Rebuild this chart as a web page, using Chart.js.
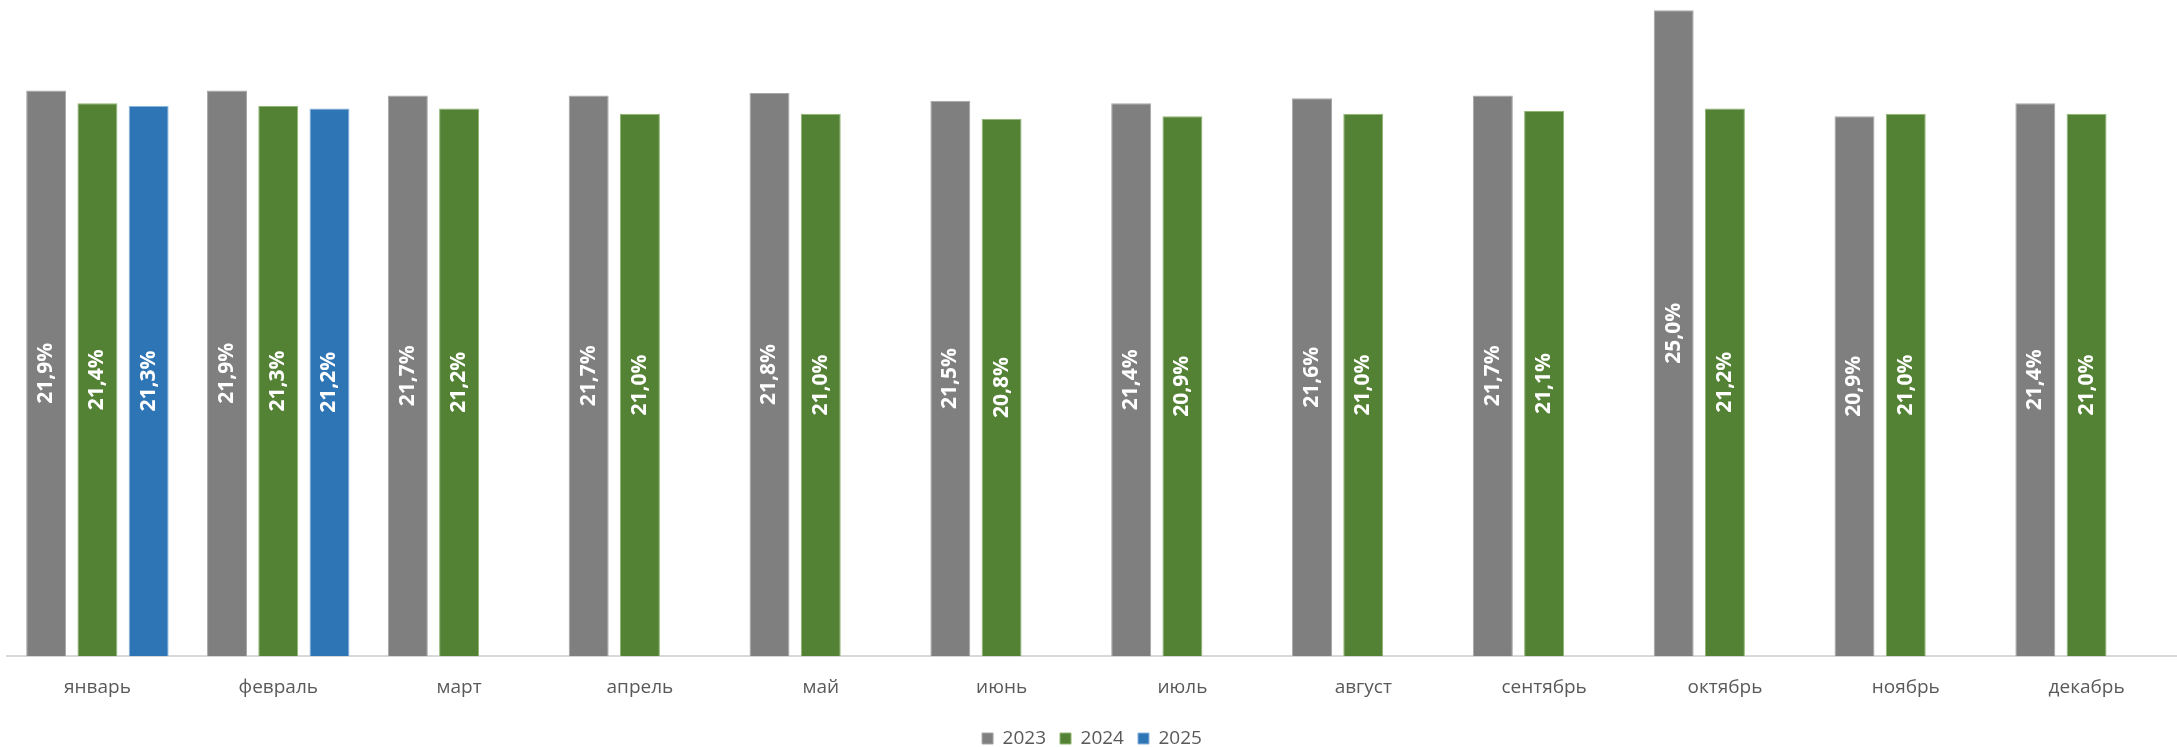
<!DOCTYPE html>
<html>
<head>
<meta charset="utf-8">
<script src="https://cdn.jsdelivr.net/npm/chart.js@4"></script>
<style>
  html, body { margin: 0; padding: 0; background: #fff; overflow: hidden; }
</style>
</head>
<body>
<canvas id="share-chart" width="2177" height="758"></canvas>
<script>
const months = ['январь', 'февраль', 'март', 'апрель', 'май', 'июнь', 'июль', 'август', 'сентябрь', 'октябрь', 'ноябрь', 'декабрь'];
const share2023 = [21.9, 21.9, 21.7, 21.7, 21.8, 21.5, 21.4, 21.6, 21.7, 25.0, 20.9, 21.4];
const share2024 = [21.4, 21.3, 21.2, 21.0, 21.0, 20.8, 20.9, 21.0, 21.1, 21.2, 21.0, 21.0];
const share2025 = [21.3, 21.2, null, null, null, null, null, null, null, null, null, null];

// white rotated value labels in the middle of each bar
const barLabels = {
    id: 'barLabels',
    afterDatasetsDraw(chart) {
        const ctx = chart.ctx;
        chart.data.datasets.forEach((ds, i) => {
            const meta = chart.getDatasetMeta(i);
            if (meta.hidden) return;
            meta.data.forEach((bar, j) => {
                const v = ds.data[j];
                if (v == null) return;
                const { x, y, base } = bar.getProps(['x', 'y', 'base'], true);
                ctx.save();
                ctx.translate(x, (y + base) / 2);
                ctx.rotate(-Math.PI / 2);
                ctx.font = 'bold 21px "Open Sans"';
                ctx.fillStyle = '#ffffff';
                ctx.textAlign = 'center';
                ctx.textBaseline = 'middle';
                ctx.fillText(v.toFixed(1).replace('.', ',') + '%', 0, 0);
                ctx.restore();
            });
        });
    }
};

const ctx = document.getElementById('share-chart').getContext('2d');
const chart = new Chart(ctx, {
    type: 'bar',
    data: {
        labels: months,
        datasets: [
            { label: '2023', data: share2023, backgroundColor: '#7f7f7f', borderColor: '#a6a6a6', borderWidth: 1 },
            { label: '2024', data: share2024, backgroundColor: '#548235', borderColor: '#8fb573', borderWidth: 1 },
            { label: '2025', data: share2025, backgroundColor: '#2e75b6', borderColor: '#8db4dc', borderWidth: 1 }
        ]
    },
    options: {
        responsive: false,
        devicePixelRatio: 1,
        animation: false,
        layout: { padding: { left: 7, right: 0, top: 0, bottom: 0 } },
        datasets: {
            bar: { categoryPercentage: 0.85, barPercentage: 0.78 }
        },
        scales: {
            x: {
                grid: { display: false },
                border: { display: true, color: '#d9d9d9', width: 2 },
                ticks: {
                    color: '#595959',
                    padding: 12,
                    font: { family: '"Open Sans"', size: 19 }
                },
                afterFit(scale) {
                    scale.height += 4;
                }
            },
            y: {
                display: false,
                min: 0,
                max: 25.4
            }
        },
        plugins: {
            legend: {
                position: 'bottom',
                labels: {
                    boxWidth: 11,
                    boxHeight: 11,
                    padding: 14,
                    color: '#595959',
                    font: { family: '"Open Sans"', size: 19 }
                }
            },
            tooltip: { enabled: false }
        }
    },
    plugins: [barLabels]
});
</script>
</body>
</html>
